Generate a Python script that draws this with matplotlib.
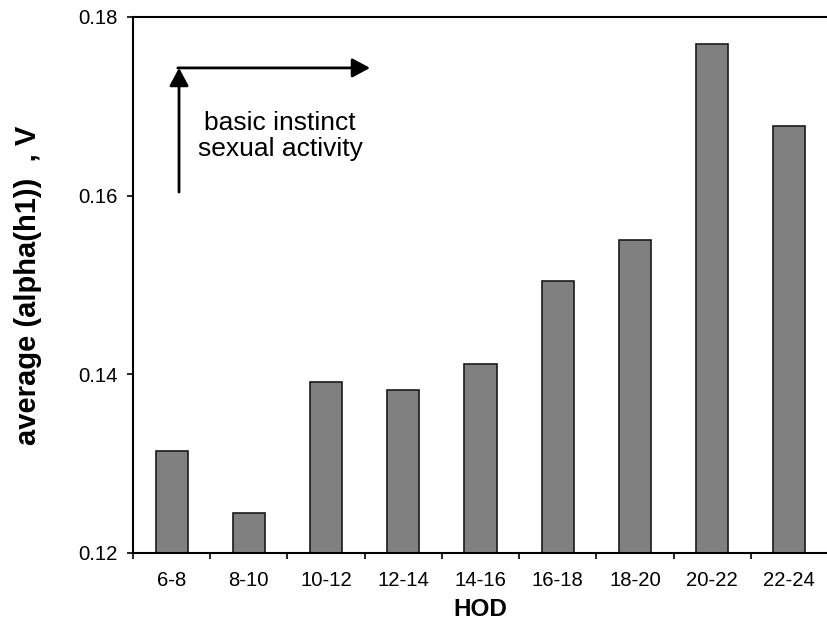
import numpy as np
import matplotlib.pyplot as plt

plt.rcParams['font.family'] = ['Liberation Sans', 'DejaVu Sans']

hod = ['6-8', '8-10', '10-12', '12-14', '14-16', '16-18', '18-20', '20-22', '22-24']
avg_alpha = [0.1314, 0.1245, 0.1391, 0.1382, 0.1412, 0.1504, 0.1550, 0.1770, 0.1678]

fig = plt.figure(figsize=(8.27, 6.31), dpi=100)
ax = fig.add_axes([133 / 827, 1 - 553 / 631, 695 / 827, 536 / 631])

x = np.arange(len(hod))
ax.bar(x, avg_alpha, width=0.415, color='#808080', edgecolor='#1a1a1a', linewidth=1.2)

ax.set_xlim(-0.5, len(hod) - 0.5)
ax.set_ylim(0.12, 0.18)
ax.set_yticks([0.12, 0.14, 0.16, 0.18])
ax.set_yticklabels(['0.12', '0.14', '0.16', '0.18'])

# category labels centred, tick marks on the boundaries
ax.set_xticks(x)
ax.set_xticklabels(hod)
ax.set_xticks(np.arange(len(hod) + 1) - 0.5, minor=True)
ax.tick_params(axis='x', which='major', length=0, pad=13, labelsize=14.6)
ax.tick_params(axis='x', which='minor', length=4.5, width=1.2, direction='out')
ax.tick_params(axis='y', length=4.5, width=1.2, direction='out', labelsize=14.6, pad=6.5)

for s in ['left', 'top', 'bottom']:
    ax.spines[s].set_linewidth(1.5)
ax.spines['right'].set_visible(False)

ax.set_xlabel('HOD', fontsize=17.5, fontweight='bold', labelpad=6)
ax.set_ylabel('average (alpha(h1))  , V', fontsize=21, fontweight='bold')
ax.yaxis.set_label_coords(-(133 - 28) / 695, 0.5)
ax.yaxis.label.set_va('center')

# arrows
head = '-|>,head_length=1.08,head_width=0.58'
ax.annotate('', xy=(0.096, 0.1743), xytext=(0.096, 0.1604),
            arrowprops=dict(arrowstyle=head, color='black', lw=2, mutation_scale=10,
                            shrinkA=0, shrinkB=0))
ax.annotate('', xy=(2.57, 0.1743), xytext=(0.08, 0.1743),
            arrowprops=dict(arrowstyle=head, color='black', lw=2, mutation_scale=10,
                            shrinkA=0, shrinkB=0))
ax.text(1.405, 0.1667, 'basic instinct\nsexual activity', ha='center', va='center',
        fontsize=19, linespacing=1.1)

fig.savefig('out.png', dpi=100)
